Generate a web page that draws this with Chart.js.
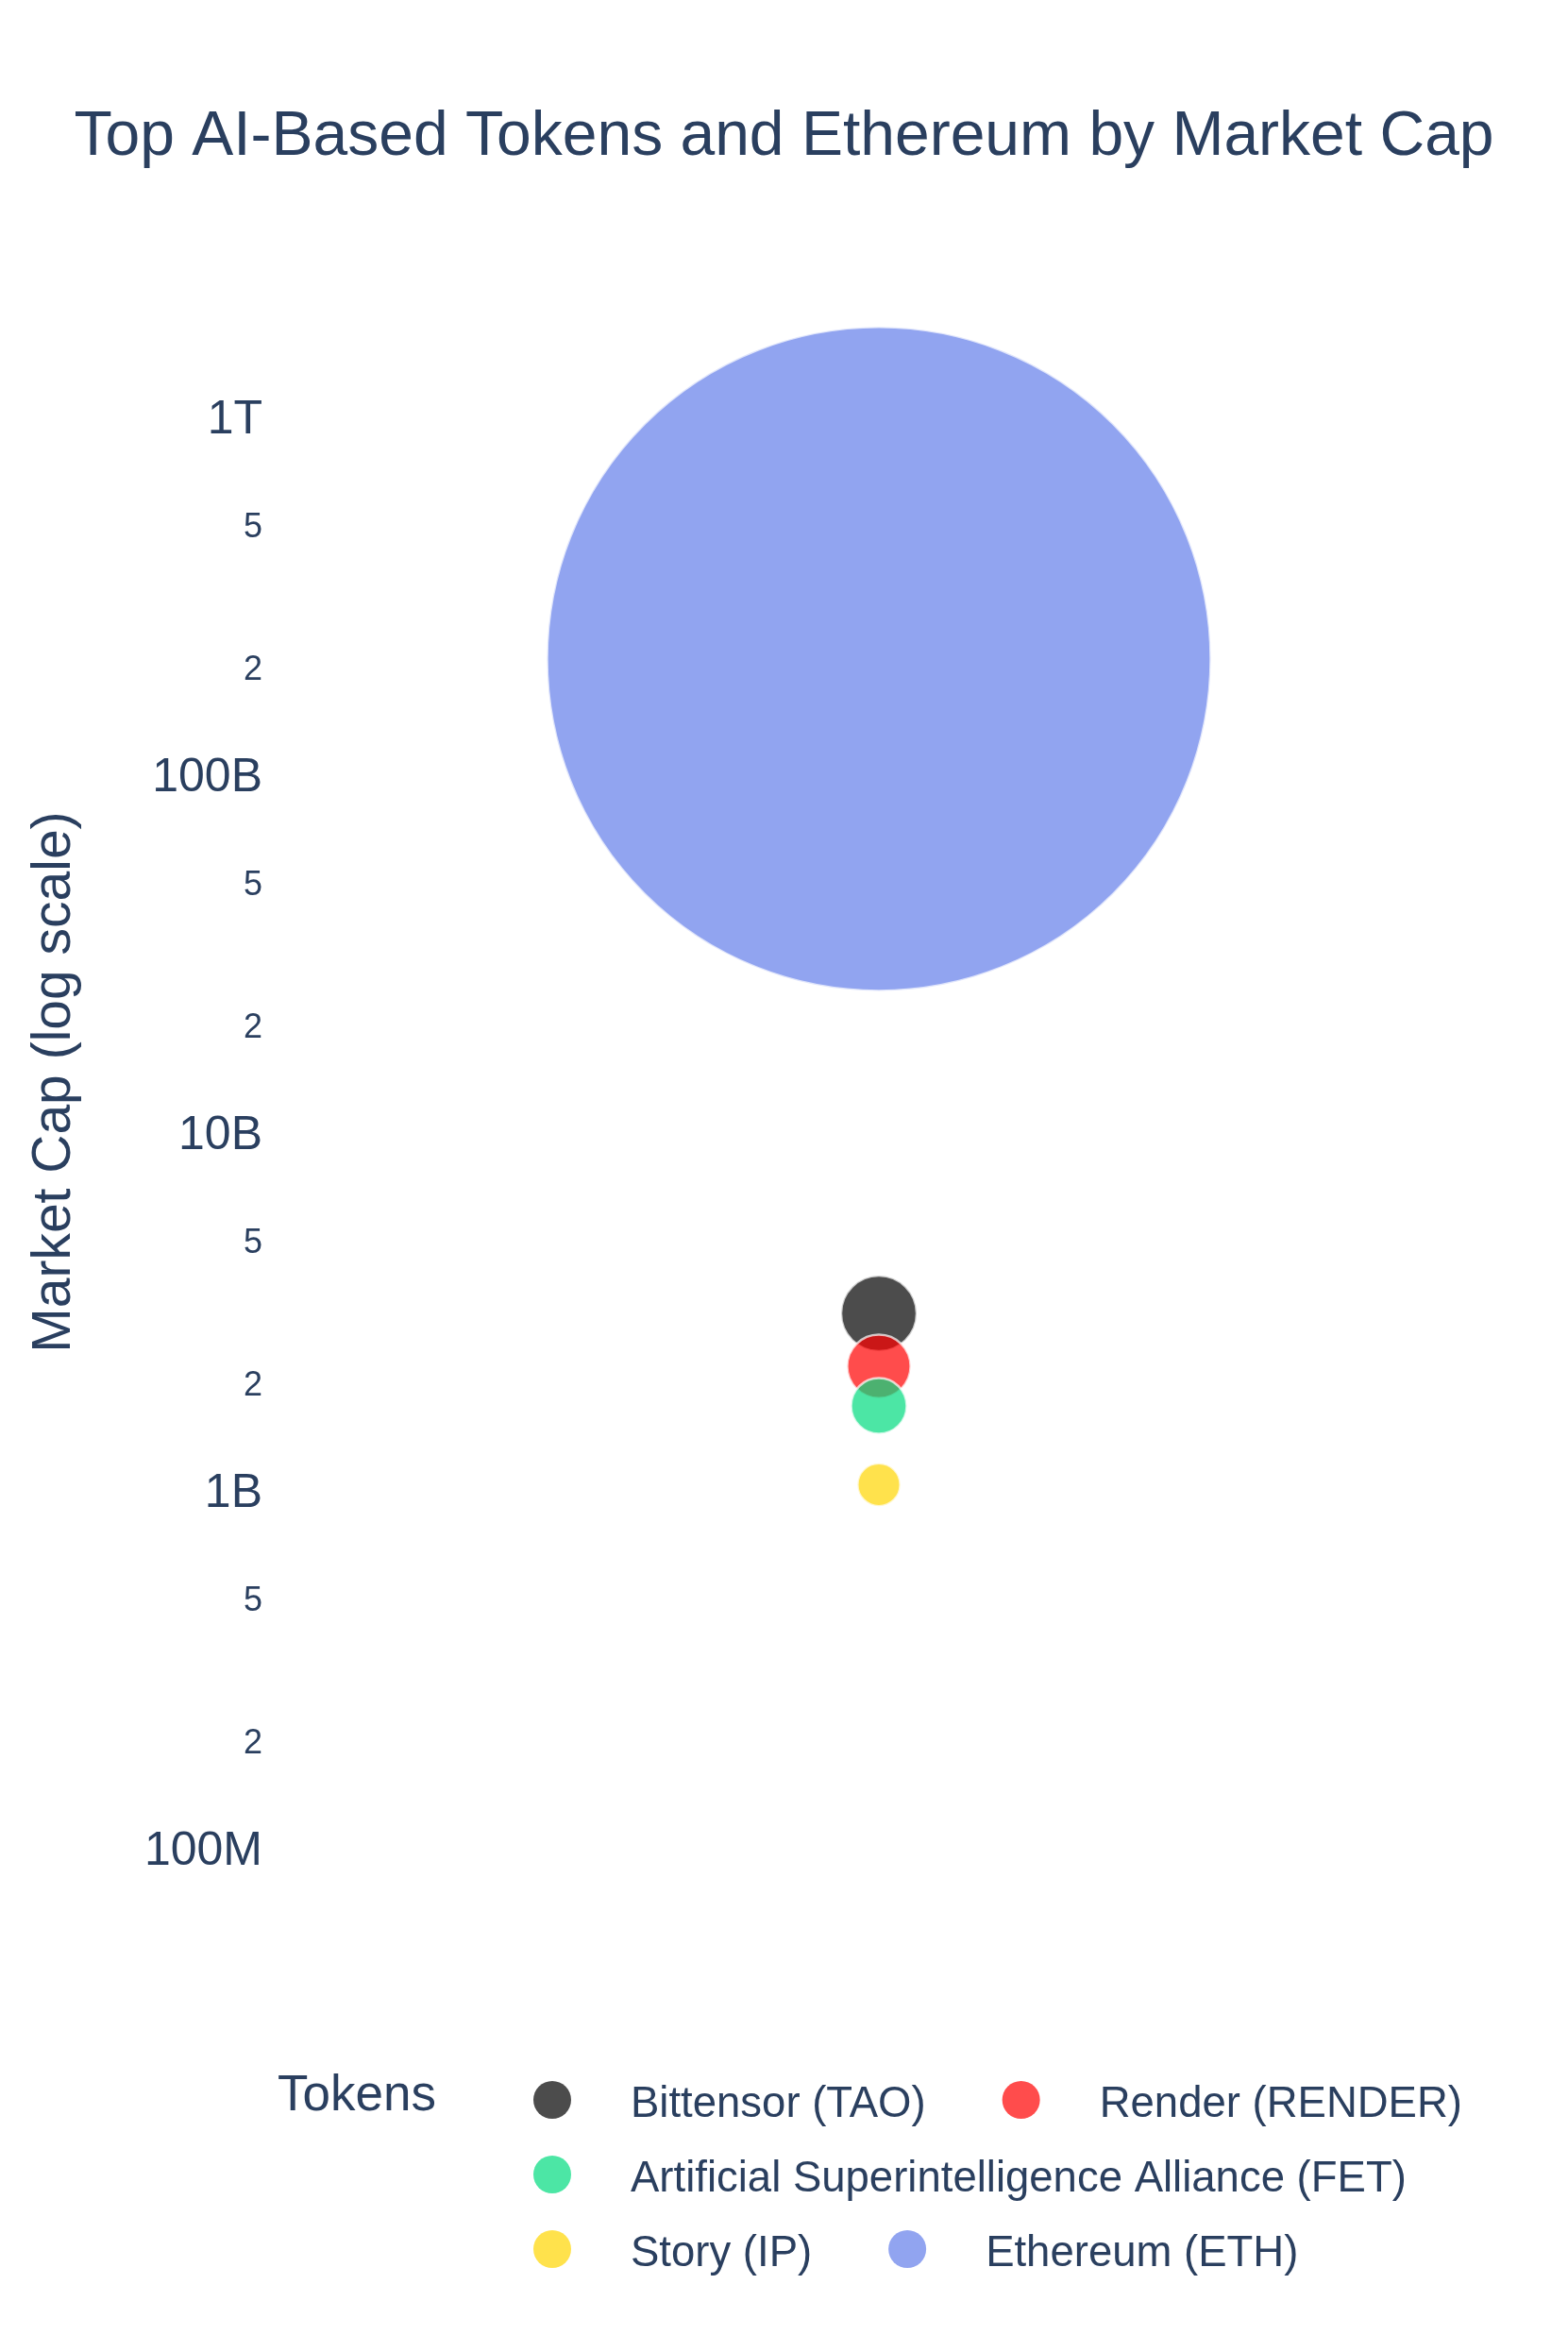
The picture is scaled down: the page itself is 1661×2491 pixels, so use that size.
<!DOCTYPE html>
<html>
<head>
<meta charset="utf-8">
<title>Top AI-Based Tokens and Ethereum by Market Cap</title>
<script src="https://cdn.jsdelivr.net/npm/chart.js@4.4.1/dist/chart.umd.min.js"></script>
<style>
  html, body { margin: 0; padding: 0; background: #fff; }
  #wrap { width: 1661px; height: 2491px; position: relative; }
</style>
</head>
<body>
<div id="wrap"><canvas id="chart"></canvas></div>
<script>
// data
const tokens = [
  "Bittensor (TAO)",
  "Render (RENDER)",
  "Artificial Superintelligence Alliance (FET)",
  "Story (IP)",
  "Ethereum (ETH)"
];
const marketCaps = [3.19e9, 2.27e9, 1.76e9, 1.06e9, 215e9];
const tokenColors = [
  "rgba(0,0,0,0.7)",
  "rgba(255,0,0,0.7)",
  "rgba(0,219,127,0.7)",
  "rgba(255,214,0,0.7)",
  "rgba(98,126,234,0.7)"
];
const tickValues = [1e8, 2e8, 5e8, 1e9, 2e9, 5e9, 1e10, 2e10, 5e10, 1e11, 2e11, 5e11, 1e12];
const tickLabels = ["100M", "2", "5", "1B", "2", "5", "10B", "2", "5", "100B", "2", "5", "1T"];

const fontFamily = '"Liberation Sans", Arial, sans-serif';
const textColor = "#2a3f5f";

// bubble area grows with market cap
const bubbleRadius = cap => 22 * Math.pow(cap / 1e9, 0.516);

// plotly-style legend under the plot, with "Tokens" title on the left
const tokenLegend = {
  id: "tokenLegend",
  afterDraw(chart) {
    const ctx = chart.ctx;
    ctx.save();
    ctx.fillStyle = textColor;
    ctx.textBaseline = "alphabetic";
    ctx.font = "53px " + fontFamily;
    ctx.fillText("Tokens", 294, 2235);

    ctx.font = "45.5px " + fontFamily;
    let x = 585, y = 2224;
    chart.data.datasets.forEach(ds => {
      const w = ctx.measureText(ds.label).width;
      if (x + 85 + w > 1620) { x = 585; y += 79; }
      ctx.beginPath();
      ctx.arc(x, y, 20, 0, Math.PI * 2);
      ctx.fillStyle = ds.backgroundColor;
      ctx.fill();
      ctx.fillStyle = textColor;
      ctx.fillText(ds.label, x + 83, y + 18);
      x += 83 + w + 101;
    });
    ctx.restore();
  }
};

const datasets = tokens.map((name, i) => ({
  label: name,
  data: [{ x: 0, y: marketCaps[i], r: bubbleRadius(marketCaps[i]) }],
  backgroundColor: tokenColors[i],
  borderColor: "rgba(255,255,255,0.7)",
  borderWidth: 2.5,
  order: tokens.length - i
}));

new Chart(document.getElementById("chart"), {
  type: "bubble",
  data: { datasets },
  plugins: [tokenLegend],
  options: {
    responsive: true,
    maintainAspectRatio: false,
    devicePixelRatio: 1,
    animation: false,
    events: [],
    layout: { autoPadding: false, padding: { left: 0, right: 0, top: 0, bottom: 473 } },
    plugins: {
      legend: { display: false },
      tooltip: { enabled: false },
      title: {
        display: true,
        text: "Top AI-Based Tokens and Ethereum by Market Cap",
        color: textColor,
        font: { family: fontFamily, size: 66, weight: "normal" },
        padding: { top: 106, bottom: 89 }
      }
    },
    scales: {
      x: { type: "linear", min: -1, max: 1, display: false },
      y: {
        type: "logarithmic",
        min: Math.pow(10, 7.85),
        max: Math.pow(10, 12.45),
        grid: { display: false },
        border: { display: false },
        afterFit: scale => { scale.width = 290; },
        afterBuildTicks: scale => {
          scale.ticks = tickValues.map(v => ({ value: v }));
        },
        ticks: {
          autoSkip: false,
          padding: 4,
          color: textColor,
          font: c => ({ family: fontFamily, size: (tickLabels[c.index] || "").length === 1 ? 36 : 50 }),
          callback: (value, index) => tickLabels[index]
        },
        title: {
          display: true,
          text: "Market Cap (log scale)",
          color: textColor,
          font: { family: fontFamily, size: 57 },
          padding: { top: 24, bottom: 0 }
        }
      },
      // empty right margin so the title stays centred on the page
      yRight: {
        type: "linear",
        position: "right",
        grid: { display: false },
        border: { display: false },
        ticks: { display: false },
        afterFit: scale => { scale.width = 89; }
      }
    }
  }
});
</script>
</body>
</html>
